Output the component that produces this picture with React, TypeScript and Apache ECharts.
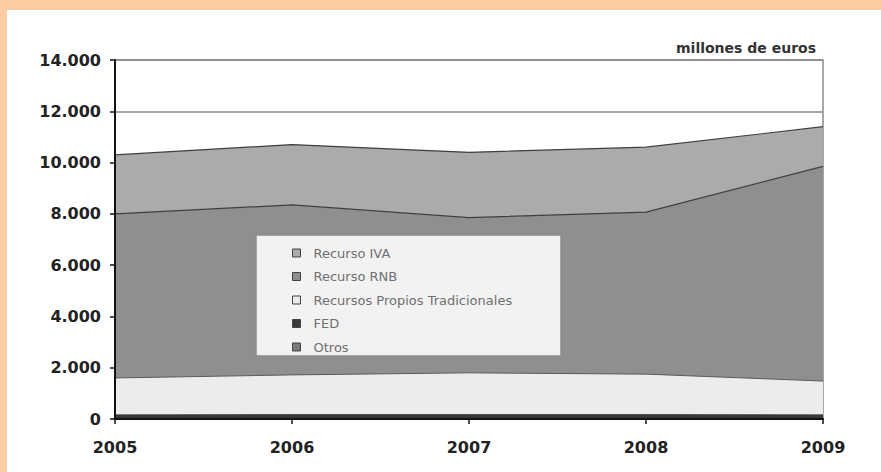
import React, { useEffect, useRef } from "react";
import * as echarts from "echarts";

const years = ["2005", "2006", "2007", "2008", "2009"];
const otros = [40, 40, 40, 40, 40];
const fed = [120, 130, 130, 130, 120];
const recursosPropios = [1440, 1550, 1630, 1580, 1320];
const recursoRNB = [6400, 6630, 6050, 6320, 8370];
const recursoIVA = [2300, 2350, 2550, 2530, 1550];
const yTicks = [0, 2000, 4000, 6000, 8000, 10000, 12000, 14000];

const FONT = "DejaVu Sans";

const COLORS: Record<string, string> = {
  "Recurso IVA": "#ababab",
  "Recurso RNB": "#8f8f8f",
  "Recursos Propios Tradicionales": "#ececec",
  FED: "#3a3a3a",
  Otros: "#7a7a7a",
};

export default function App() {
  const ref = useRef<HTMLDivElement>(null);
  useEffect(() => {
    document.body.style.margin = "0";
    document.documentElement.style.overflow = "hidden";
    const chart = echarts.init(ref.current!, undefined, { renderer: "svg" });
    const mk = (name: string, data: number[], line: string, lw: number) => ({
      name,
      type: "line",
      stack: "total",
      data,
      symbol: "none",
      z: 2,
      itemStyle: { color: COLORS[name] },
      lineStyle: { color: line, width: lw },
      areaStyle: { color: COLORS[name], opacity: 1 },
    });
    const yBase = {
      type: "value",
      min: yTicks[0],
      max: yTicks[yTicks.length - 1],
      interval: 2000,
      position: "left",
    };
    chart.setOption({
      animation: false,
      backgroundColor: "transparent",
      graphic: [
        {
          type: "rect",
          z: 50,
          shape: { x: 256, y: 235, width: 305, height: 121 },
          style: { fill: "#f2f2f2", stroke: "#8c8c8c", lineWidth: 1.5 },
        },
        {
          type: "text",
          z: 50,
          x: 816,
          y: 48,
          style: {
            text: "millones de euros",
            font: `bold 14px "${FONT}"`,
            fill: "#333",
            textAlign: "right",
            textVerticalAlign: "middle",
          },
        },
      ],
      grid: {
        left: 115,
        right: 58,
        top: 60,
        bottom: 53,
        show: true,
        backgroundColor: "#ffffff",
        borderColor: "#8a8a8a",
        borderWidth: 1.5,
      },
      legend: {
        orient: "vertical",
        left: 287,
        top: 241,
        itemWidth: 8,
        itemHeight: 8,
        itemGap: 9.5,
        icon: "rect",
        z: 60,
        data: ["Recurso IVA", "Recurso RNB", "Recursos Propios Tradicionales", "FED", "Otros"].map((n) => ({
          name: n,
          itemStyle: { color: COLORS[n], borderColor: "#444", borderWidth: 1 },
        })),
        textStyle: {
          fontFamily: FONT,
          fontSize: 13,
          lineHeight: 14,
          color: "#707070",
          padding: [0, 0, 0, 8],
        },
      },
      xAxis: {
        type: "category",
        data: years,
        boundaryGap: false,
        axisLine: { lineStyle: { color: "#111", width: 2 } },
        axisTick: { show: true, length: 5, lineStyle: { color: "#111", width: 1.5 } },
        axisLabel: { margin: 20, fontFamily: FONT, fontSize: 16, fontWeight: "bold", color: "#222" },
        splitLine: { show: false },
        z: 10,
      },
      yAxis: [
        {
          ...yBase,
          z: 0,
          axisLine: { show: false },
          axisTick: { show: false },
          axisLabel: { show: false },
          splitLine: { show: true, lineStyle: { color: "#8a8a8a", width: 1.5 } },
        },
        {
          ...yBase,
          z: 10,
          axisLine: { show: true, onZero: false, lineStyle: { color: "#111", width: 2 } },
          axisTick: { show: true, length: 5, lineStyle: { color: "#111", width: 1.5 } },
          axisLabel: {
            margin: 14,
            fontFamily: FONT,
            fontSize: 16,
            fontWeight: "bold",
            color: "#222",
            formatter: (v: number) => (v === 0 ? "0" : (v / 1000).toFixed(0) + ".000"),
          },
          splitLine: { show: false },
        },
      ],
      series: [
        mk("Otros", otros, "#333", 1.5),
        mk("FED", fed, "#333", 1),
        mk("Recursos Propios Tradicionales", recursosPropios, "#5a5a5a", 1),
        mk("Recurso RNB", recursoRNB, "#3f3f3f", 1.2),
        mk("Recurso IVA", recursoIVA, "#3f3f3f", 1.2),
      ],
    });
    return () => chart.dispose();
  }, []);
  return (
    <div style={{ position: "relative", width: 881, height: 472, background: "#ffffff", overflow: "hidden" }}>
      <div style={{ position: "absolute", left: 0, top: 0, width: 881, height: 10, background: "#fccca3" }} />
      <div style={{ position: "absolute", left: 0, top: 0, width: 7, height: 472, background: "#fccca3" }} />
      <div ref={ref} style={{ position: "absolute", left: 0, top: 0, width: 881, height: 472 }} />
    </div>
  );
}
